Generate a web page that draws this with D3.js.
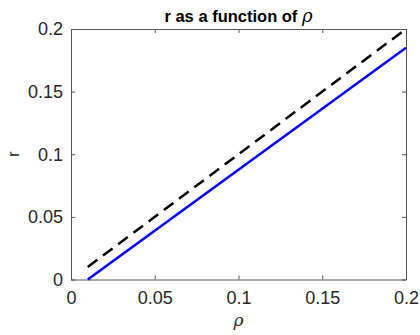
<!DOCTYPE html>
<html>
<head>
<meta charset="utf-8">
<script src="https://cdn.jsdelivr.net/npm/d3@7"></script>
<style>
  body { margin: 0; background: #fff; }
  svg { display: block; font-family: "Liberation Sans", Arial, sans-serif; }
</style>
</head>
<body>
<div id="chart"></div>
<script>
// data
const rho = [0.01, 0.2];
const rBlue = [0, 0.185];
const rDashed = [0.01, 0.2];
const xTicks = [0, 0.05, 0.1, 0.15, 0.2];
const yTicks = [0, 0.05, 0.1, 0.15, 0.2];

const width = 420, height = 335;
const margin = { top: 29, right: 14, bottom: 55.5, left: 71 };
const iw = width - margin.left - margin.right;
const ih = height - margin.top - margin.bottom;
const axisColor = '#262626';

const svg = d3.select('#chart').append('svg')
  .attr('width', width)
  .attr('height', height);

const g = svg.append('g')
  .attr('transform', `translate(${margin.left},${margin.top})`);

const x = d3.scaleLinear().domain([0, 0.2]).range([0, iw]);
const y = d3.scaleLinear().domain([0, 0.2]).range([ih, 0]);

const fmt = d => d === 0 ? '0' : String(d);

// box + inward ticks on all four sides
const axBottom = g.append('g').attr('transform', `translate(0,${ih})`)
  .call(d3.axisBottom(x).tickValues(xTicks).tickFormat(fmt).tickSizeInner(-4).tickSizeOuter(0).tickPadding(12));
const axLeft = g.append('g')
  .call(d3.axisLeft(y).tickValues(yTicks).tickFormat(fmt).tickSizeInner(-4).tickSizeOuter(0).tickPadding(8));
const axTop = g.append('g')
  .call(d3.axisTop(x).tickValues(xTicks).tickFormat('').tickSizeInner(-4).tickSizeOuter(0));
const axRight = g.append('g').attr('transform', `translate(${iw},0)`)
  .call(d3.axisRight(y).tickValues(yTicks).tickFormat('').tickSizeInner(-4).tickSizeOuter(0));

[axBottom, axLeft, axTop, axRight].forEach(a => {
  a.select('.domain').attr('stroke', '#555').attr('stroke-width', 1);
  a.selectAll('.tick line').attr('stroke', '#555');
  a.selectAll('.tick text').attr('fill', axisColor).style('font-size', '18px');
});

const line = d3.line().x(d => x(d[0])).y(d => y(d[1]));

g.append('path')
  .datum(rho.map((v, i) => [v, rDashed[i]]))
  .attr('d', line)
  .attr('fill', 'none')
  .attr('stroke', '#000')
  .attr('stroke-width', 2.5)
  .attr('stroke-dasharray', '12,7');

g.append('path')
  .datum(rho.map((v, i) => [v, rBlue[i]]))
  .attr('d', line)
  .attr('fill', 'none')
  .attr('stroke', '#0000ff')
  .attr('stroke-width', 2.5);

// title
const title = svg.append('text')
  .attr('x', margin.left + iw / 2)
  .attr('y', 22)
  .attr('text-anchor', 'middle')
  .attr('fill', '#000')
  .style('font-size', '16.5px')
  .style('font-weight', 'bold');
title.append('tspan').text('r as a function of ');
title.append('tspan')
  .style('font-family', '"DejaVu Serif", "Liberation Serif", serif')
  .style('font-style', 'italic')
  .style('font-weight', 'normal')
  .style('font-size', '18px')
  .text('ρ');

// axis labels
svg.append('text')
  .attr('x', margin.left + iw / 2)
  .attr('y', 326)
  .attr('text-anchor', 'middle')
  .attr('fill', axisColor)
  .style('font-family', '"DejaVu Serif", "Liberation Serif", serif')
  .style('font-style', 'italic')
  .style('font-size', '17px')
  .text('ρ');

svg.append('text')
  .attr('transform', `translate(19,${margin.top + ih / 2}) rotate(-90)`)
  .attr('text-anchor', 'middle')
  .attr('fill', axisColor)
  .style('font-size', '17px')
  .text('r');
</script>
</body>
</html>
